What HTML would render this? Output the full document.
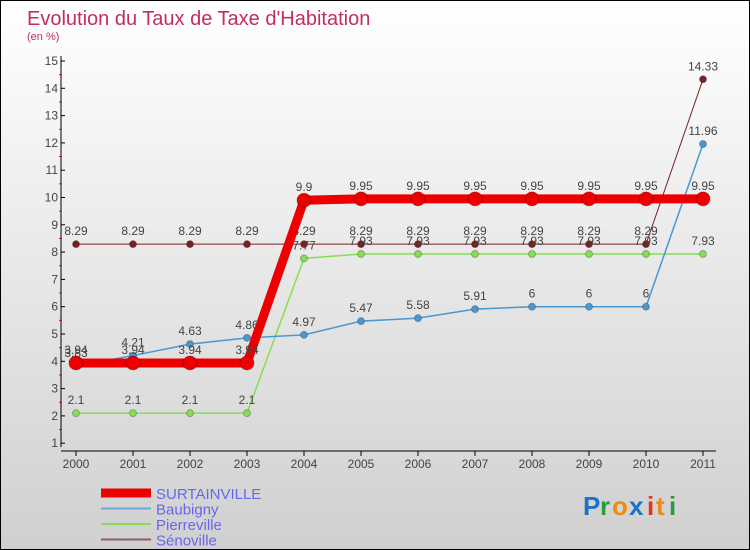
<!DOCTYPE html>
<html><head><meta charset="utf-8"><style>
body{margin:0;}
#c{width:748px;height:548px;border:1px solid #000;background:linear-gradient(#fff,#d0d0d0);position:relative;overflow:hidden;font-family:"Liberation Sans",sans-serif;}
svg text{font-family:"Liberation Sans",sans-serif;}
</style></head><body>
<div id="c">
<svg id="s" width="748" height="548">
<text x="26" y="24" font-size="20" fill="#c0305a">Evolution du Taux de Taxe d'Habitation</text>
<text x="26" y="39" font-size="11" fill="#c0305a">(en %)</text>
<g id="axes"></g><g id="marks"></g>
<g font-size="26" font-weight="bold">
<text x="582" y="514" fill="#1a73c8">P</text><text x="599" y="514" fill="#2a9a3a">r</text><text x="611" y="514" fill="#f08a10">o</text><text x="628" y="514" fill="#1a73c8">x</text><text x="646" y="514" fill="#e83020">i</text><text x="655" y="514" fill="#f08a10">t</text><text x="668" y="514" fill="#2a9a3a">i</text>
</g>
</svg></div>
<script>
const years=[2000,2001,2002,2003,2004,2005,2006,2007,2008,2009,2010,2011];
const yTicks=[1,2,3,4,5,6,7,8,9,10,11,12,13,14,15];
const surtainville=[3.94,3.94,3.94,3.94,9.9,9.95,9.95,9.95,9.95,9.95,9.95,9.95];
const baubigny=[3.83,4.21,4.63,4.86,4.97,5.47,5.58,5.91,6,6,6,11.96];
const pierreville=[2.1,2.1,2.1,2.1,7.77,7.93,7.93,7.93,7.93,7.93,7.93,7.93];
const senoville=[8.29,8.29,8.29,8.29,8.29,8.29,8.29,8.29,8.29,8.29,8.29,14.33];
const NS="http://www.w3.org/2000/svg";
const X=i=>75+i*57, Y=v=>60+(15-v)*27.3;
function mk(t,a,p){const e=document.createElementNS(NS,t);for(const k in a)e.setAttribute(k,a[k]);p.appendChild(e);return e;}
const ax=document.getElementById('axes'), mg=document.getElementById('marks');
let l=mk('line',{x1:60,y1:55,x2:60,y2:446,stroke:'#000'},ax);


l=mk('line',{x1:60,y1:450,x2:715,y2:450,stroke:'#000'},ax);


yTicks.forEach(v=>{
 mk('line',{x1:60,y1:Y(v),x2:64,y2:Y(v),stroke:'#000'},ax);
 if(v<15)mk('line',{x1:58,y1:Y(v+0.5),x2:61,y2:Y(v+0.5),stroke:'#e00'},ax);
 const t=mk('text',{x:57,y:Y(v)+4,'font-size':12,fill:'#444','text-anchor':'end'},ax);t.textContent=v;
 
 
});
years.forEach((yr,i)=>{
 mk('line',{x1:X(i),y1:450,x2:X(i),y2:455,stroke:'#000'},ax);
 const t=mk('text',{x:X(i),y:467,'font-size':12,fill:'#444','text-anchor':'middle'},ax);t.textContent=yr;
 
 
});
function series(d,col,w,r,name){
 const g=mk('g',{},mg);
 
 
 mk('polyline',{points:d.map((v,i)=>X(i)+','+Y(v)).join(' '),fill:'none',stroke:col,'stroke-width':w},g);
 d.forEach((v,i)=>{
  const c=mk('circle',{cx:X(i),cy:Y(v),r:r,fill:col,stroke:'rgba(0,0,0,0.25)'},g);
  
  
  const t=mk('text',{x:X(i),y:Y(v)-9,'font-size':12,fill:'#444','text-anchor':'middle'},g);t.textContent=v;
 });
}
series(senoville,'#7a2020',1,3.5,'senoville');
series(pierreville,'#88dd55',1.5,3.5,'pierreville');
series(baubigny,'#4a98d0',1.5,3.5,'baubigny');
series(surtainville,'#ee0000',9,7,'surtainville');
const legNames=['SURTAINVILLE','Baubigny','Pierreville','Sénoville'];
const legCols=['#ee0000','#6aa8d8','#88dd55','#906060'];
const legW=[9,2,2,2];
legNames.forEach((n,i)=>{
 const y=492+i*15.5;
 const g=mk('g',{},mg);
 
 
 mk('line',{x1:100,y1:y,x2:150,y2:y,stroke:legCols[i],'stroke-width':legW[i]},g);
 const t=mk('text',{x:155,y:y+6,'font-size':15,fill:'#6666ee'},g);t.textContent=n;
});
</script></body></html>
